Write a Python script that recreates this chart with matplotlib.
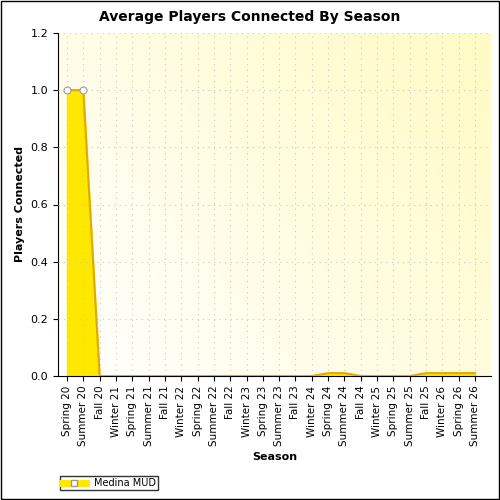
import numpy as np
import matplotlib
matplotlib.use("Agg")
import matplotlib.pyplot as plt
from matplotlib.lines import Line2D
from matplotlib.patches import Rectangle

seasons = ["Spring 20", "Summer 20", "Fall 20", "Winter 21", "Spring 21", "Summer 21",
           "Fall 21", "Winter 22", "Spring 22", "Summer 22", "Fall 22", "Winter 23",
           "Spring 23", "Summer 23", "Fall 23", "Winter 24", "Spring 24", "Summer 24",
           "Fall 24", "Winter 25", "Spring 25", "Summer 25", "Fall 25", "Winter 26",
           "Spring 26", "Summer 26"]
players = [1.0, 1.0, 0, 0, 0, 0, 0, 0, 0, 0, 0, 0, 0, 0, 0, 0,
           0.01, 0.01, 0, 0, 0, 0, 0.01, 0.01, 0.01, 0.01]

x = np.arange(len(seasons))
y = np.array(players)

fig = plt.figure(figsize=(5, 5), dpi=100)
ax = fig.add_axes([0.116, 0.248, 0.866, 0.686])

# gradient background, white (top-left) to pale yellow (bottom-right)
xmin, xmax = -0.55, len(seasons) - 0.02
gx, gy = np.meshgrid(np.linspace(0, 1, 200), np.linspace(0, 1, 200))
grad = 0.6 * gx + 0.4 * gy
cmap = matplotlib.colors.LinearSegmentedColormap.from_list("bg", ["#ffffff", "#fffbc4"])
ax.imshow(grad, extent=[xmin, xmax, 0, 1.2], aspect="auto", cmap=cmap,
          origin="lower", zorder=0)

ax.fill_between(x, y, color="#ffe800", zorder=2)
ax.plot(x, y, color="#e0a800", lw=1.5, zorder=3)
big = y >= 0.5
ax.plot(x[big], y[big], "o", ms=5, mfc="white", mec="#999999", mew=0.8, zorder=4)

ax.set_xlim(xmin, xmax)
ax.set_ylim(0, 1.2)
yt = np.arange(0, 1.21, 0.2)
ax.set_yticks(yt)
ax.set_yticklabels([f"{v:.1f}" for v in yt], fontsize=8)
ax.set_xticks(x)
ax.set_xticklabels(seasons, rotation=90, fontsize=7.5)
ax.grid(True, color="#c8c8c8", ls=(0, (1, 4)), lw=0.8, zorder=1)
ax.set_axisbelow(False)
for s in ["top", "right"]:
    ax.spines[s].set_visible(False)
ax.set_xlabel("Season", fontsize=8, fontweight="bold")
ax.set_ylabel("Players Connected", fontsize=8, fontweight="bold")
fig.text(0.5, 0.965, "Average Players Connected By Season", ha="center", va="center",
         fontsize=10, fontweight="bold")

h = Line2D([0], [0], color="#ffe800", lw=5, marker="s", ms=5, mfc="white", mec="#999999")
fig.legend([h], ["Medina MUD"], loc="lower left", bbox_to_anchor=(0.11, 0.01),
           fontsize=7, frameon=True, fancybox=False, edgecolor="black",
           borderpad=0.2, handlelength=2.5)
fig.patches.append(Rectangle((0.002, 0.002), 0.996, 0.996, transform=fig.transFigure,
                             fill=False, edgecolor="black", lw=1))

fig.savefig("out.png", dpi=100)
